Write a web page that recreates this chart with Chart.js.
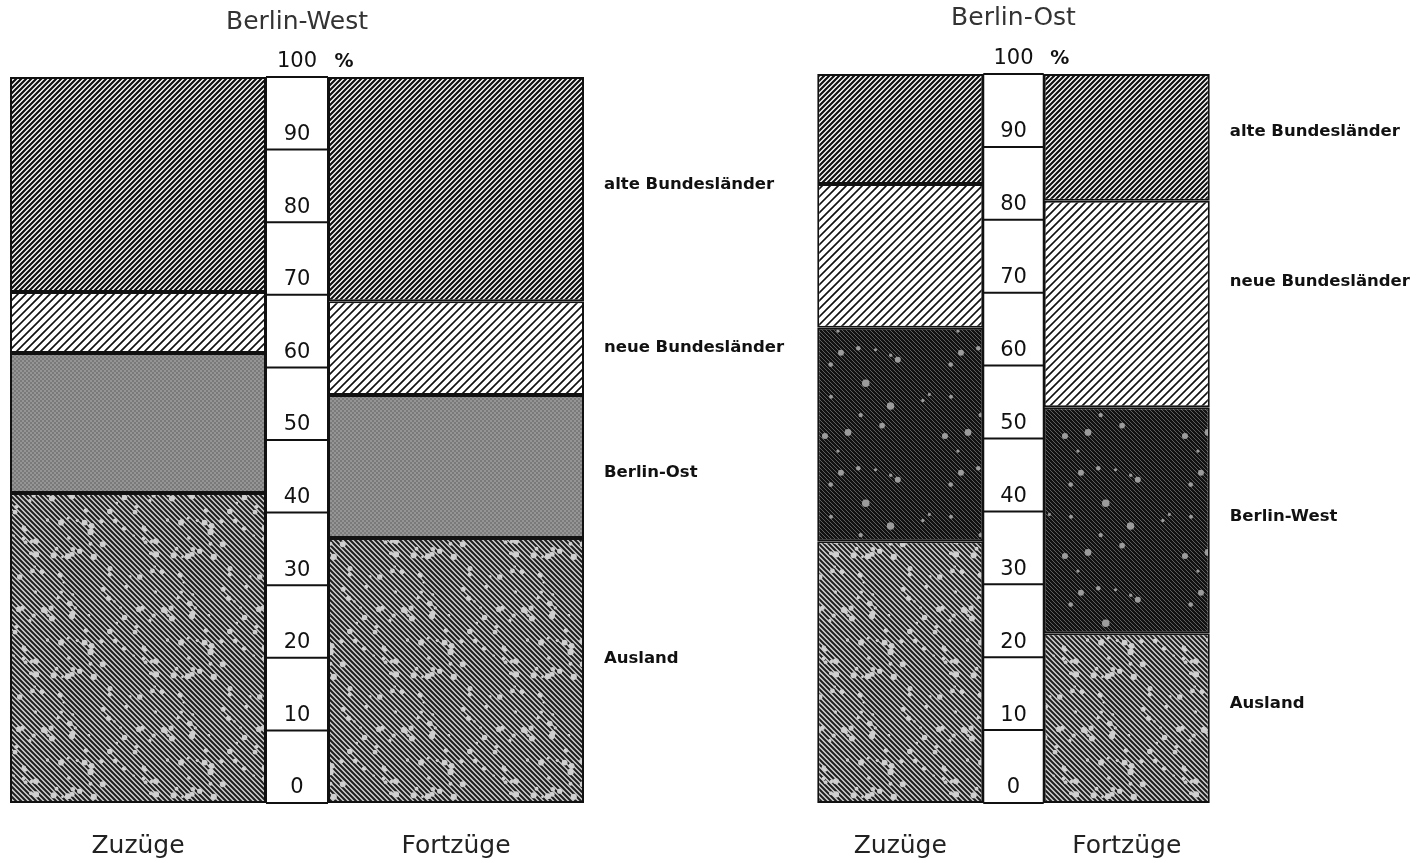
<!DOCTYPE html>
<html>
<head>
<meta charset="utf-8">
<script src="https://cdn.jsdelivr.net/npm/chart.js@4/dist/chart.umd.min.js"></script>
<style>
  html, body { margin: 0; padding: 0; background: #fff; overflow: hidden; }
  body { width: 1428px; height: 863px; position: relative; }
  canvas { position: absolute; top: 0; }
  #west { left: -40px; }
  #ost { left: 760px; }
</style>
</head>
<body>
<canvas id="west" width="840" height="863"></canvas>
<canvas id="ost" width="668" height="863"></canvas>
<script>
// categories and values (percent, stacked from bottom)
const categories = ['Zuzüge', 'Fortzüge'];

const westSegments = ['Ausland', 'Berlin-Ost', 'neue Bundesländer', 'alte Bundesländer'];
const westAusland = [42.7, 36.5];
const westBerlinOst = [19.3, 19.7];
const westNeue = [8.4, 12.9];
const westAlte = [29.6, 30.9];

const ostSegments = ['Ausland', 'Berlin-West', 'neue Bundesländer', 'alte Bundesländer'];
const ostAusland = [35.9, 23.3];
const ostBerlinWest = [29.3, 31.0];
const ostNeue = [19.7, 28.3];
const ostAlte = [15.1, 17.4];

const tickStep = 10;

// ---- fill patterns ----
function makePattern(w, h, draw) {
  const c = document.createElement('canvas');
  c.width = w; c.height = h;
  const g = c.getContext('2d');
  draw(g, w, h);
  return g.createPattern(c, 'repeat');
}
function hatch(g, w, h, n, dir, color, lw) {
  g.strokeStyle = color;
  g.lineWidth = lw;
  g.beginPath();
  for (let k = -h; k < w + h; k += n) {
    if (dir === '/') { g.moveTo(k - 3, h + 3); g.lineTo(k + h + 3, -3); }
    else { g.moveTo(k - 3, -3); g.lineTo(k + h + 3, h + 3); }
  }
  g.stroke();
}
// texture noise only (not data)
function noise(i) {
  const s = Math.sin(i * 12.9898 + 78.233) * 43758.5453;
  return s - Math.floor(s);
}
function blobs(g, w, h, color, count, rmin, rmax, seed) {
  g.fillStyle = color;
  for (let i = 0; i < count; i++) {
    const x = noise(seed + i * 3) * w;
    const y = noise(seed + i * 3 + 1) * h;
    const r = rmin + noise(seed + i * 3 + 2) * (rmax - rmin);
    for (const dx of [-w, 0, w]) for (const dy of [-h, 0, h]) {
      g.beginPath();
      g.arc(x + dx, y + dy, r, 0, Math.PI * 2);
      g.fill();
    }
  }
}

const pAlte = makePattern(40, 40, (g, w, h) => {
  g.fillStyle = '#fff'; g.fillRect(0, 0, w, h);
  hatch(g, w, h, 5, '/', '#111', 2.2);
});
const pNeue = makePattern(40, 40, (g, w, h) => {
  g.fillStyle = '#fff'; g.fillRect(0, 0, w, h);
  hatch(g, w, h, 8, '/', '#111', 1.6);
});
const pBerlinOst = makePattern(8, 8, (g, w, h) => {
  g.fillStyle = '#959595'; g.fillRect(0, 0, w, h);
  g.fillStyle = '#7a7a7a';
  for (let y = 0; y < h; y += 2) for (let x = (y / 2) % 2 * 2; x < w; x += 4) g.fillRect(x, y, 2, 2);
});
const pAusland = makePattern(120, 120, (g, w, h) => {
  g.fillStyle = '#d0d0d0'; g.fillRect(0, 0, w, h);
  hatch(g, w, h, 5, '\\', '#1e1e1e', 2);
  blobs(g, w, h, '#cfcfcf', 70, 1.2, 3.2, 11);
});
const pBerlinWest = makePattern(120, 120, (g, w, h) => {
  g.fillStyle = '#121212'; g.fillRect(0, 0, w, h);
  hatch(g, w, h, 4, '\\', '#5e5e5e', 1);
  blobs(g, w, h, '#9c9c9c', 16, 1.5, 4, 97);
});

// ---- plugin: scale column, labels, titles ----
const panelDecor = {
  id: 'panelDecor',
  afterDatasetsDraw(chart, args, opts) {
    const ctx = chart.ctx;
    const y = chart.scales.y;
    const x = chart.scales.x;
    const b0 = chart.getDatasetMeta(0).data[0];
    const b1 = chart.getDatasetMeta(0).data[1];
    const colL = b0.x + b0.width / 2;
    const colR = b1.x - b1.width / 2;
    const colC = (colL + colR) / 2;
    const top = y.getPixelForValue(100);
    const bottom = y.getPixelForValue(0);

    ctx.save();
    ctx.fillStyle = '#fff';
    ctx.fillRect(colL + 1, top, colR - colL - 2, bottom - top);
    ctx.strokeStyle = '#111';
    ctx.lineWidth = 2;
    ctx.beginPath();
    ctx.moveTo(colL, top); ctx.lineTo(colL, bottom);
    ctx.moveTo(colR, top); ctx.lineTo(colR, bottom);
    ctx.stroke();

    ctx.fillStyle = '#111';
    ctx.font = '21px "DejaVu Sans", sans-serif';
    ctx.textAlign = 'center';
    ctx.textBaseline = 'middle';
    y.ticks.forEach(t => {
      const py = y.getPixelForValue(t.value);
      ctx.beginPath();
      ctx.moveTo(colL, py); ctx.lineTo(colR, py);
      ctx.stroke();
      ctx.fillText(String(t.value), colC, py - 15);
      if (t.value === 100) {
        ctx.font = 'bold 19px "DejaVu Sans", sans-serif';
        ctx.fillText('%', colR + 16, py - 15);
        ctx.font = '21px "DejaVu Sans", sans-serif';
      }
    });

    // segment labels beside the Fortzüge bar
    ctx.font = 'bold 16.5px "DejaVu Sans", sans-serif';
    ctx.textAlign = 'left';
    chart.data.datasets.forEach((ds, i) => {
      const el = chart.getDatasetMeta(i).data[1];
      const my = (el.y + el.base) / 2 + (opts.labelShift[i] || 0);
      ctx.fillText(ds.label, b1.x + b1.width / 2 + 20, my);
    });

    // category labels under the bars
    ctx.fillStyle = '#222';
    ctx.font = '25px "DejaVu Sans", sans-serif';
    ctx.textAlign = 'center';
    chart.data.labels.forEach((lab, i) => {
      ctx.fillText(lab, x.getPixelForValue(i), bottom + 43);
    });

    // panel title
    ctx.fillStyle = '#333';
    ctx.font = '25px "DejaVu Sans", sans-serif';
    ctx.fillText(opts.title, colC, opts.titleY);
    ctx.restore();
  }
};

function makeChart(id, segments, series, fills, pad, barPct, title, titleY, labelShift) {
  const datasets = segments.map((name, i) => ({
    label: name,
    data: series[i],
    backgroundColor: fills[i],
    borderColor: '#111',
    borderWidth: 2,
    borderSkipped: false,
    barPercentage: barPct,
    categoryPercentage: 1
  }));
  return new Chart(document.getElementById(id).getContext('2d'), {
    type: 'bar',
    data: { labels: categories, datasets: datasets },
    options: {
      responsive: false,
      animation: false,
      layout: { padding: pad },
      plugins: {
        legend: { display: false },
        tooltip: { enabled: false },
        panelDecor: { title: title, titleY: titleY, labelShift: labelShift }
      },
      scales: {
        x: { stacked: true, display: false },
        y: { stacked: true, display: false, min: 0, max: 100, ticks: { stepSize: tickStep } }
      }
    },
    plugins: [panelDecor]
  });
}

makeChart('west', westSegments,
  [westAusland, westBerlinOst, westNeue, westAlte],
  [pAusland, pBerlinOst, pNeue, pAlte],
  { left: 19, right: 185, top: 77, bottom: 60 }, 0.805,
  'Berlin-West', 22, [-12, 6, 0, -4]);

makeChart('ost', ostSegments,
  [ostAusland, ostBerlinWest, ostNeue, ostAlte],
  [pAusland, pBerlinWest, pNeue, pAlte],
  { left: 27, right: 188, top: 74, bottom: 60 }, 0.733,
  'Berlin-Ost', 18, [-14, -3, -22, -6]);
</script>
</body>
</html>
